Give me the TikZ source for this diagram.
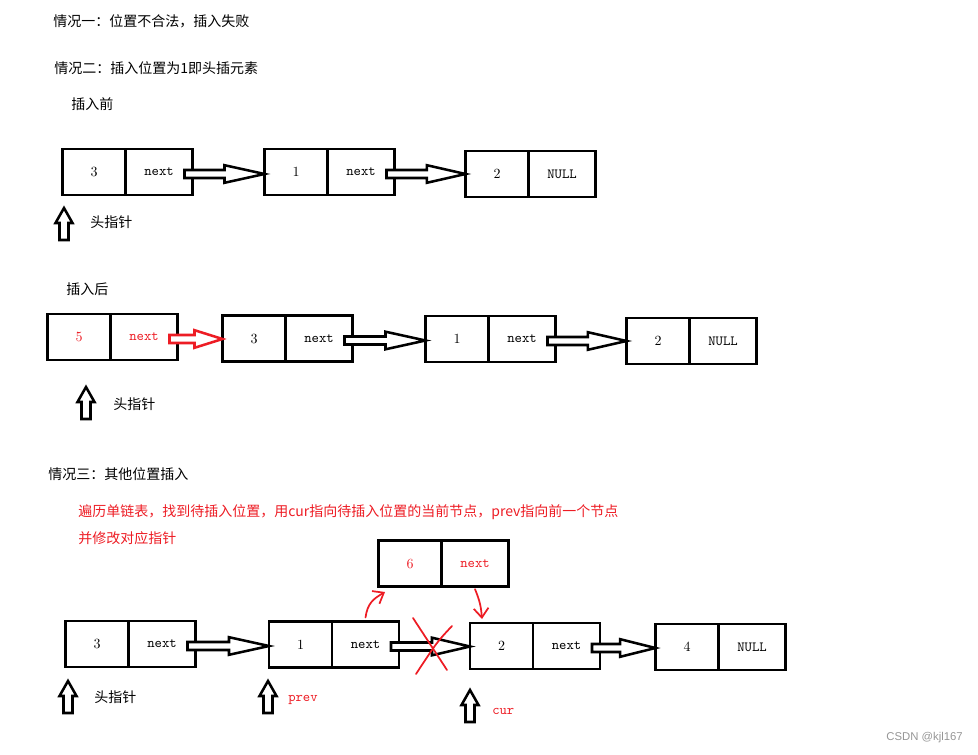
\documentclass[tikz,border=0pt]{standalone}
\usepackage{fontspec}
\usepackage{tikz}
\usetikzlibrary{positioning,calc,arrows.meta}
\newfontfamily\cjk{Noto Sans CJK SC}
\newfontfamily\wmfont{Liberation Sans}
\definecolor{penred}{RGB}{237,28,36}
\definecolor{markgray}{RGB}{150,150,150}

\tikzset{
  valcell/.style={draw, line width=2pt, minimum width=47.25pt, minimum height=34.5pt, inner sep=0pt, outer sep=0pt, font=\fontsize{10.5}{12}\selectfont},
  ptrcell/.style={valcell, minimum width=50.25pt, font=\ttfamily\fontsize{10.5}{12}\selectfont},
  linkshape/.style={line width=1.9pt, fill=white, line join=miter},
  ptrshape/.style={line width=1.9pt, fill=white, line join=miter},
  txt/.style={anchor=west, inner sep=0pt, font=\cjk\fontsize{10.5}{12}\selectfont},
  redpen/.style={draw=penred, line width=1.3pt, line cap=round},
  curvearrow/.style={redpen, -{Straight Barb[length=7pt,width=11pt]}}
}

% list node: name, position, value, pointer text
\newcommand\listnode[5][]{%
  \node[valcell, #1] (#2) at (#3) {#4};
  \node[ptrcell, #1, right=0pt of #2] (#2n) {#5};}

% fat hollow arrow from a next cell to a node
\newcommand\link[4][black]{%
  \draw[linkshape, draw=#1] let \p1=($(#2.east)+(-8,2)$), \p2=(#3.west) in
    (\x1,{\y1+3pt}) -- ({\x2-#4pt},{\y1+3pt}) -- ({\x2-#4pt},{\y1+6.6pt}) -- (\x2,\y1)
    -- ({\x2-#4pt},{\y1-6.6pt}) -- ({\x2-#4pt},{\y1-3pt}) -- (\x1,{\y1-3pt}) -- cycle;}

% hollow up arrow, tip at the coordinate
\newcommand\headptr[2]{%
  \coordinate (#1) at (#2);
  \draw[ptrshape] (#1) -- ++(8.5,15) -- ++(-4,0) -- ++(0,17) -- ++(-9,0) -- ++(0,-17) -- ++(-4,0) -- cycle;}

\begin{document}
\begin{tikzpicture}[x=0.75pt, y=-0.75pt]
\useasboundingbox (0,0) rectangle (978,755);

\node[txt] (case1) at (53,21) {情况一：位置不合法，插入失败};
\node[txt] (case2) at (54,68) {情况二：插入位置为1即头插元素};
\node[txt] (before) at (71,104) {插入前};

\listnode{a1}{94,172}{3}{next}
\listnode{a2}{296,172}{1}{next}
\listnode{a3}{497,174}{2}{NULL}
\link{a1n}{a2}{30}
\link{a2n}{a3}{29}
\headptr{hp1}{64,208}
\node[txt] (hl1) at (90,222) {头指针};

\node[txt] (after) at (66,289) {插入后};
\listnode[text=penred]{b1}{79,337}{5}{next}
\listnode{b2}{254,338.5}{3}{next}
\listnode{b3}{457,339}{1}{next}
\listnode{b4}{658,341}{2}{NULL}
\link[penred]{b1n}{b2}{21}
\link{b2n}{b3}{30}
\link{b3n}{b4}{29}
\headptr{hp2}{86,387}
\node[txt] (hl2) at (113,404) {头指针};

\node[txt] (case3) at (48,474) {情况三：其他位置插入};
\node[txt, text=penred] (how1) at (78,512) {遍历单链表，找到待插入位置，用cur指向待插入位置的当前节点，prev指向前一个节点};
\node[txt, text=penred] (how2) at (78,538) {并修改对应指针};

\listnode[text=penred]{d6}{410,563.5}{6}{next}
\listnode{c1}{97,644}{3}{next}
\listnode{c2}{300.5,644.5}{1}{next}
\listnode{c3}{501.5,646}{2}{next}
\listnode{c4}{687,647}{4}{NULL}
\link{c1n}{c2}{30}
\link{c2n}{c3}{28.5}
\link{c3n}{c4}{26.5}

\coordinate (cut) at (433,646);
\draw[redpen] ($(cut)+(-20,-28)$) -- ($(cut)+(14,24)$);
\draw[redpen] ($(cut)+(19,-20)$) .. controls ($(cut)+(4,-4)$) .. ($(cut)+(-17,28)$);

\coordinate (upin) at (385,592);
\coordinate (downin) at (482,619);
\draw[curvearrow] ([yshift=3pt]c2n.north) .. controls +(2,-14) and +(-12,7) .. (upin);
\draw[curvearrow] ([yshift=-2pt]d6n.south) .. controls +(5,12) and +(-1,-12) .. (downin);

\headptr{hp3}{68,681}
\node[txt] (hl3) at (94,697) {头指针};
\headptr{prevptr}{268,681}
\node[txt, font=\ttfamily\fontsize{10.5}{12}\selectfont, text=penred] (prev) at (288,700) {prev};
\headptr{curptr}{470,690}
\node[txt, font=\ttfamily\fontsize{10.5}{12}\selectfont, text=penred] (cur) at (492,711) {cur};

\node[anchor=east, inner sep=0pt, font=\wmfont\fontsize{8.5}{10}\selectfont, text=markgray] (mark) at (963,738) {CSDN @kjl167};
\end{tikzpicture}
\end{document}
